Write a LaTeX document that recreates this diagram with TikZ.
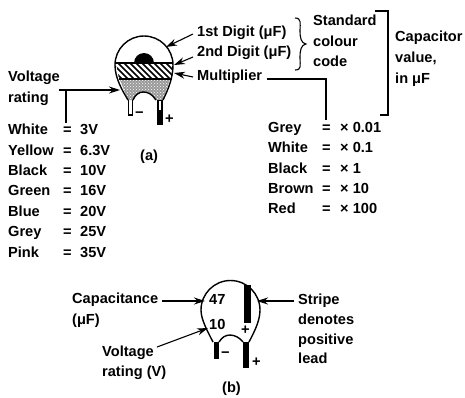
\documentclass[tikz,border=0pt]{standalone}
\usepackage{fontspec}
\setmainfont{Liberation Sans}
\usetikzlibrary{arrows.meta,patterns}
\tikzset{
  lab/.style={font=\bfseries\fontsize{14.6}{16}\selectfont, inner sep=0pt, anchor=west, text height=10.5pt, text depth=3pt},
  pointer/.style={line width=1.1pt, -{Stealth[length=11pt,width=7pt]}},
  rule/.style={line width=1.1pt},
  body/.style={line width=1.4pt}
}
\begin{document}
\begin{tikzpicture}[x=1pt,y=-1pt]
\useasboundingbox (0,0) rectangle (465,397);

% Capacitor (a), stippled part
\begin{scope}
\clip (116,70) -- (173,70) -- (163,100) -- (155,100) .. controls (152,94) and (148,92) .. (143,92)
  .. controls (139,92) and (135,95) .. (133,100) -- (128,100) -- cycle;
\fill[black!40] (110,80) rectangle (180,105);
\fill[pattern=crosshatch dots, pattern color=white] (110,80) rectangle (180,105);
\end{scope}

% Hatched band
\begin{scope}
\clip (116,63) -- (173,63) -- (172,79) -- (119,79) -- cycle;
\foreach \x in {100,106,...,175}
  \draw[line width=1.6pt] (\x,63) -- (\x+16,79);
\end{scope}

% Dome and band edges
\fill (134,63) arc[start angle=180,end angle=360,radius=10] -- cycle;
\draw[rule] (116,63) -- (173,63);
\draw[rule] (119,79) -- (172,79);

% Outline
\draw[body] (128,100) .. controls (122,90) and (115,78) .. (115,65)
  arc[start angle=180,end angle=360,radius=29]
  .. controls (173,78) and (168,90) .. (163,100);
\draw[body] (133,100) .. controls (135,95) and (139,92) .. (143,92)
  .. controls (148,92) and (152,94) .. (156,100);
\draw[line width=1.5pt] (128.5,100) -- (128.5,115) -- (132.5,115) -- (132.5,100);
\fill (157,100) rectangle (163,125);
\fill[white] (159.2,101) rectangle (160.8,110);
\node[lab] (minusa) at (135,114) {−};
\node[lab] (plusa) at (165,120) {+};
\node[lab] (capa) at (140,157) {(a)};

% Digit labels
\node[lab] (first) at (197,33) {1st Digit (μF)};
\node[lab] (second) at (197,53) {2nd Digit (μF)};
\node[lab] (multi) at (197,77) {Multiplier};
\coordinate (firstend) at (166,47);
\coordinate (secondend) at (174,65);
\coordinate (multiend) at (174,73);
\draw[pointer] (first.west) ++(-4,1) -- (firstend);
\draw[pointer] (second.west) ++(-4,4) -- (secondend);
\draw[pointer] (multi.west) ++(-4,0) -- (multiend);

% Brace and bracket
\node[lab] (standard) at (313,22) {Standard};
\node[lab] (colour) at (313,43) {colour};
\node[lab] (code) at (313,63) {code};
\draw[rule] (295,18) .. controls (302,18) and (300,24) .. (300,30)
  .. controls (300,38) and (301,43) .. (306,44)
  .. controls (301,45) and (300,50) .. (300,58)
  .. controls (300,65) and (302,70) .. (295,70);
\draw[line width=1.4pt] (375,11) -- (388,11) -- (388,115) -- (380,115);
\node[lab] (capvalue) at (395,38) {Capacitor};
\node[lab] (value) at (395,59) {value,};
\node[lab] (inuf) at (395,80) {in μF};

% Voltage rating
\node[lab] (rating) at (8,78) {Voltage};
\node[lab] (rating2) at (8,99) {rating};
\coordinate (ratingstart) at (59,90);
\coordinate (ratingtee) at (66,90);
\coordinate (ratingend) at (120,90);
\coordinate (ratingbot) at (66,123);
\draw[pointer] (ratingstart) -- (ratingend);
\draw[rule] (ratingtee) -- (ratingbot);

% Multiplier line
\coordinate (multistart) at (267,79);
\coordinate (multicorner) at (326,79);
\coordinate (multibot) at (326,120);
\draw[rule] (multistart) -- (multicorner) -- (multibot);

% Voltage and multiplier tables
\foreach \n/\c/\v [count=\i] in {0/White/3V,1/Yellow/6.3V,2/Black/10V,3/Green/16V,4/Blue/20V,5/Grey/25V,6/Pink/35V}{
  \node[lab] (vc\i) at (8,131+20.4*\n) {\c};
  \node[lab] (ve\i) at (63,131+20.4*\n) {=};
  \node[lab] (vv\i) at (80,131+20.4*\n) {\v};
}
\foreach \n/\c/\v [count=\i] in {0/Grey/0.01,1/White/0.1,2/Black/1,3/Brown/10,4/Red/100}{
  \node[lab] (mc\i) at (268,129+20.2*\n) {\c};
  \node[lab] (me\i) at (322,129+20.2*\n) {=};
  \node[lab] (mv\i) at (340,129+20.2*\n) {× \v};
}

% Capacitor (b)
\draw[body] (213,342) .. controls (208,332) and (201,320) .. (201,310)
  arc[start angle=180,end angle=360,radius=29.5]
  .. controls (260,322) and (253,334) .. (249,342);
\draw[body] (219,342) .. controls (222,337) and (226,335) .. (230,335)
  .. controls (235,335) and (240,338) .. (243,342);
\fill (214,342) rectangle (219,359);
\fill (243,342) rectangle (249,368);
\fill (244,285) rectangle (251,323);
\node[lab] (fortyseven) at (209,301) {47};
\node[lab] (ten) at (209,326) {10};
\node[lab] (plusb) at (241,331) {+};
\node[lab] (minusb) at (221,354) {−};
\node[lab] (plusc) at (252,363) {+};
\node[lab] (capb) at (222,389) {(b)};
\node[lab] (capacitance) at (72,300) {Capacitance};
\node[lab] (ufb) at (72,321) {(μF)};
\node[lab] (voltb) at (102,353) {Voltage};
\node[lab] (ratingb) at (102,373) {rating (V)};
\node[lab] (stripe) at (298,301) {Stripe};
\node[lab] (denotes) at (298,321) {denotes};
\node[lab] (positive) at (298,341) {positive};
\node[lab] (lead) at (298,360) {lead};
\coordinate (capend) at (205,301);
\coordinate (voltend) at (208,328);
\coordinate (stripeend) at (257,301);
\draw[pointer] (capacitance.east) ++(4,1) -- (capend);
\draw[pointer] (voltb.east) ++(3,-6) -- (voltend);
\draw[pointer] (stripe.west) ++(-4,0) -- (stripeend);
\end{tikzpicture}
\end{document}
